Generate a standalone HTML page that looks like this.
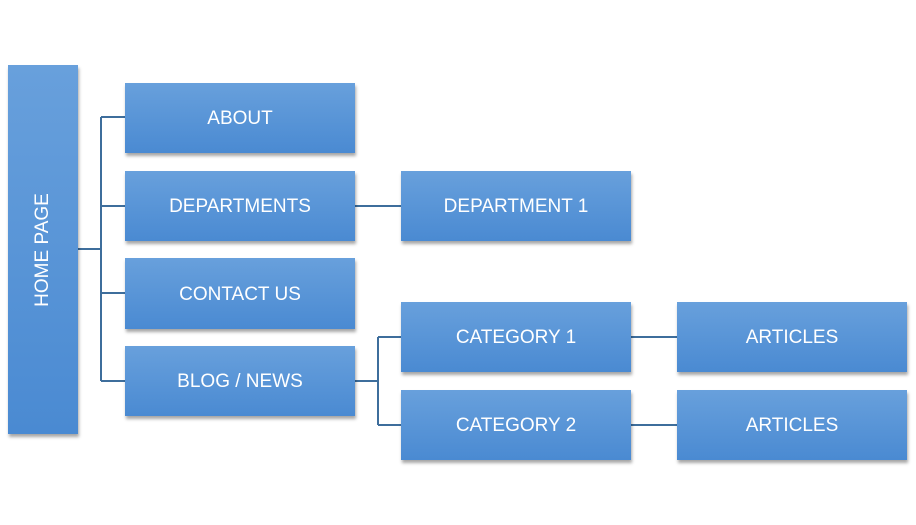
<!DOCTYPE html><html><head><style>
body{margin:0;width:916px;height:525px;background:#fff;position:relative;overflow:hidden;font-family:"Liberation Sans",sans-serif}
.b{position:absolute;background:linear-gradient(#68a0dc,#4a8ad2);box-shadow:1px 3px 3px rgba(0,0,0,.35);color:#fff;font-size:19px;display:flex;align-items:center;justify-content:center;box-sizing:border-box;padding-top:2px}
svg{position:absolute;left:0;top:0}
</style></head><body>
<svg width="916" height="525"><g stroke="#3e6e9c" stroke-width="2" fill="none">
<path d="M78 249H101M101 117V381M101 117H125M101 206H125M101 293H125M101 381H125"/>
<path d="M355 206H401"/>
<path d="M355 381H378M378 337V425M378 337H401M378 425H401"/>
<path d="M631 337H677M631 425H677"/>
</g></svg>
<div class="b" style="left:8px;top:65px;width:70px;height:369px;padding-top:0"><div style="transform:rotate(-90deg);white-space:nowrap">HOME PAGE</div></div>
<div class="b" style="left:125px;top:83px;width:230px;height:70px">ABOUT</div>
<div class="b" style="left:125px;top:171px;width:230px;height:70px">DEPARTMENTS</div>
<div class="b" style="left:125px;top:258px;width:230px;height:71px">CONTACT US</div>
<div class="b" style="left:125px;top:346px;width:230px;height:70px">BLOG / NEWS</div>
<div class="b" style="left:401px;top:171px;width:230px;height:70px">DEPARTMENT 1</div>
<div class="b" style="left:401px;top:302px;width:230px;height:70px">CATEGORY 1</div>
<div class="b" style="left:401px;top:390px;width:230px;height:70px">CATEGORY 2</div>
<div class="b" style="left:677px;top:302px;width:230px;height:70px">ARTICLES</div>
<div class="b" style="left:677px;top:390px;width:230px;height:70px">ARTICLES</div>
</body></html>
